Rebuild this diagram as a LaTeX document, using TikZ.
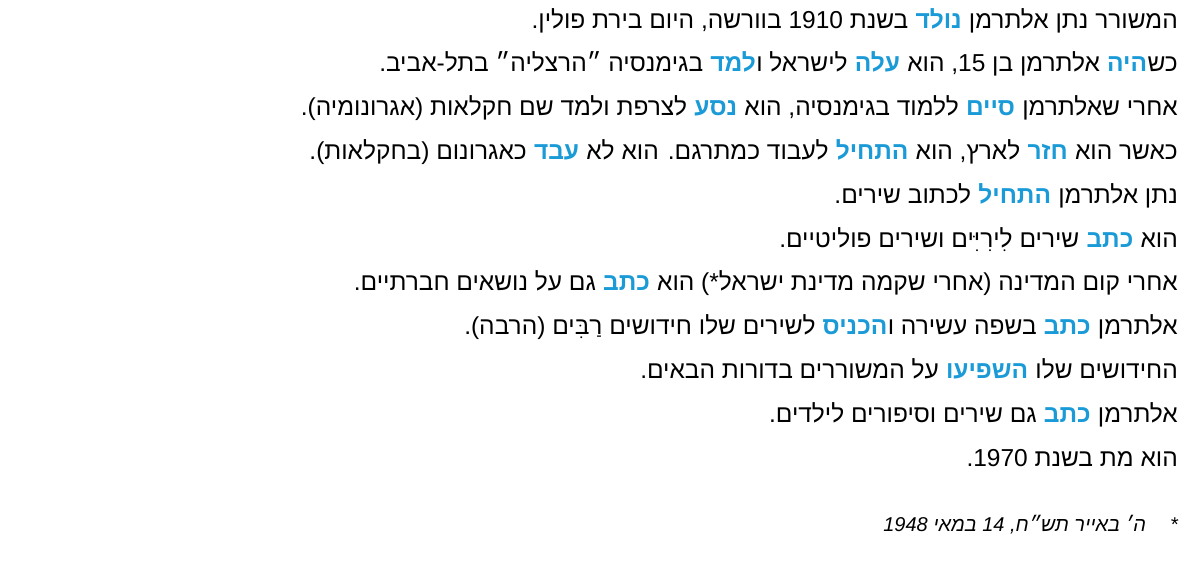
\documentclass[tikz,border=0pt]{standalone}
\usepackage{fontspec}
\setmainfont{Liberation Sans}
\newfontfamily\heb[Script=Hebrew]{Liberation Sans}
\TeXXeTstate=1
\definecolor{verb}{HTML}{1A9AD6}
\newcommand{\gap}{\kern0.278em}
\newcommand{\LL}[1]{\beginL#1\endL{}}
\newcommand{\R}[1]{\beginR#1\endR}
\begin{document}
\begin{tikzpicture}[x=1pt,y=-1pt,
  ln/.style={anchor=base east,inner sep=0pt,font=\heb\fontsize{24.5}{28}\selectfont},
  vb/.style={ln,text=verb,font=\heb\bfseries\fontsize{24.5}{28}\selectfont},
  fn/.style={anchor=base east,inner sep=0pt,font=\heb\itshape\fontsize{20}{23}\selectfont}]
\useasboundingbox (0,0) rectangle (1181,568);
% line 1
\node[ln] (a1) at (1178,28) {\R{המשורר נתן אלתרמן\gap}};
\node[vb] (a2) at (a1.base west) {\R{נולד}};
\node[ln] (a3) at (a2.base west) {\R{\gap בשנת \LL{1910} בוורשה, היום בירת פולין.}};
% line 2
\node[ln] (b1) at (1178,71.8) {\R{כש}};
\node[vb] (b2) at (b1.base west) {\R{היה}};
\node[ln] (b3) at (b2.base west) {\R{\gap אלתרמן בן \LL{15}, הוא\gap}};
\node[vb] (b4) at (b3.base west) {\R{עלה}};
\node[ln] (b5) at (b4.base west) {\R{\gap לישראל ו}};
\node[vb] (b6) at (b5.base west) {\R{למד}};
\node[ln] (b7) at (b6.base west) {\R{\gap בגימנסיה ״הרצליה״ בתל-אביב.}};
% line 3
\node[ln] (c1) at (1178,115.6) {\R{אחרי שאלתרמן\gap}};
\node[vb] (c2) at (c1.base west) {\R{סיים}};
\node[ln] (c3) at (c2.base west) {\R{\gap ללמוד בגימנסיה, הוא\gap}};
\node[vb] (c4) at (c3.base west) {\R{נסע}};
\node[ln] (c5) at (c4.base west) {\R{\gap לצרפת ולמד שם חקלאות (אגרונומיה).}};
% line 4
\node[ln] (d1) at (1178,159.4) {\R{כאשר הוא\gap}};
\node[vb] (d2) at (d1.base west) {\R{חזר}};
\node[ln] (d3) at (d2.base west) {\R{\gap לארץ, הוא\gap}};
\node[vb] (d4) at (d3.base west) {\R{התחיל}};
\node[ln] (d5) at (d4.base west) {\R{\gap לעבוד כמתרגם. הוא לא\gap}};
\node[vb] (d6) at (d5.base west) {\R{עבד}};
\node[ln] (d7) at (d6.base west) {\R{\gap כאגרונום (בחקלאות).}};
% line 5
\node[ln] (e1) at (1178,203.2) {\R{נתן אלתרמן\gap}};
\node[vb] (e2) at (e1.base west) {\R{התחיל}};
\node[ln] (e3) at (e2.base west) {\R{\gap לכתוב שירים.}};
% line 6
\node[ln] (f1) at (1178,247) {\R{הוא\gap}};
\node[vb] (f2) at (f1.base west) {\R{כתב}};
\node[ln] (f3) at (f2.base west) {\R{\gap שירים לִירִיִּים ושירים פוליטיים.}};
% line 7
\node[ln] (g1) at (1178,290.8) {\R{אחרי קום המדינה (אחרי שקמה מדינת ישראל*) הוא\gap}};
\node[vb] (g2) at (g1.base west) {\R{כתב}};
\node[ln] (g3) at (g2.base west) {\R{\gap גם על נושאים חברתיים.}};
% line 8
\node[ln] (h1) at (1178,334.6) {\R{אלתרמן\gap}};
\node[vb] (h2) at (h1.base west) {\R{כתב}};
\node[ln] (h3) at (h2.base west) {\R{\gap בשפה עשירה ו}};
\node[vb] (h4) at (h3.base west) {\R{הכניס}};
\node[ln] (h5) at (h4.base west) {\R{\gap לשירים שלו חידושים רַבִּים (הרבה).}};
% line 9
\node[ln] (i1) at (1178,378.4) {\R{החידושים שלו\gap}};
\node[vb] (i2) at (i1.base west) {\R{השפיעו}};
\node[ln] (i3) at (i2.base west) {\R{\gap על המשוררים בדורות הבאים.}};
% line 10
\node[ln] (j1) at (1178,422.2) {\R{אלתרמן\gap}};
\node[vb] (j2) at (j1.base west) {\R{כתב}};
\node[ln] (j3) at (j2.base west) {\R{\gap גם שירים וסיפורים לילדים.}};
% line 11
\node[ln] (k1) at (1178,466) {\R{הוא מת בשנת \LL{1970}.}};
% footnote
\node[fn] (fn1) at (1178,531) {\R{*\hspace{1.2em}ה׳ באייר תש״ח, \LL{14} במאי \LL{1948}}};
\end{tikzpicture}
\end{document}
